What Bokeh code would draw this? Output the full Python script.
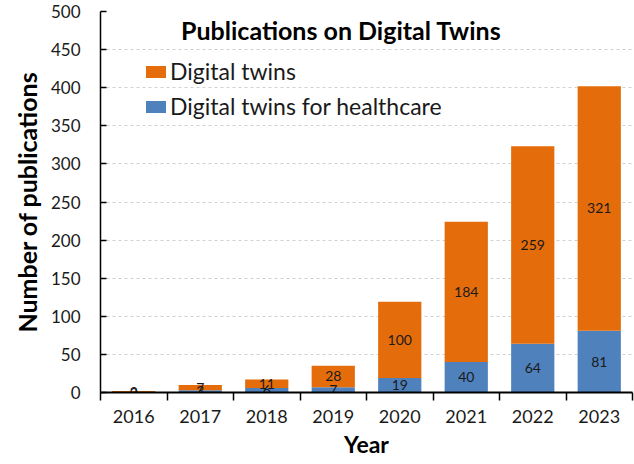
from bokeh.plotting import figure
from bokeh.models import (ColumnDataSource, FixedTicker, Range1d, Label, Legend, LegendItem)
from bokeh.core.properties import value
from bokeh.embed import file_html
from bokeh.resources import INLINE

years = ["2016", "2017", "2018", "2019", "2020", "2021", "2022", "2023"]
healthcare = [0, 3, 6, 7, 19, 40, 64, 81]
twins = [2, 7, 11, 28, 100, 184, 259, 321]
y_ticks = [0, 50, 100, 150, 200, 250, 300, 350, 400, 450, 500]

FONT = "Lato"
ORANGE = "#E46C0A"
BLUE = "#4F81BD"

idx = list(range(len(years)))
src = ColumnDataSource(dict(
    x=idx, healthcare=healthcare, twins=twins,
    hc_mid=[h / 2 for h in healthcare],
    tw_mid=[h + t / 2 for h, t in zip(healthcare, twins)],
    hc_txt=[str(h) for h in healthcare],
    tw_txt=[str(t) for t in twins],
))

p = figure(width=634, height=464, output_backend="svg", toolbar_location=None,
           x_range=Range1d(-0.5, len(years) - 0.5), y_range=Range1d(0, 500),
           min_border_left=100, min_border_right=2, min_border_top=11, min_border_bottom=72)
p.outline_line_color = None
p.background_fill_color = "white"
p.border_fill_color = "white"

r_hc, r_tw = p.vbar_stack(["healthcare", "twins"], x="x", width=0.65, source=src,
                          color=[BLUE, ORANGE], line_color=None)

p.text(x="x", y="hc_mid", text="hc_txt", source=src, text_font=value(FONT),
       text_font_size="14px", text_align="center", text_baseline="middle", text_color="#1a1a1a")
p.text(x="x", y="tw_mid", text="tw_txt", source=src, text_font=value(FONT),
       text_font_size="14px", text_align="center", text_baseline="middle", text_color="#1a1a1a")

xa = p.xaxis[0]
xa.ticker = FixedTicker(ticks=idx, minor_ticks=[i - 0.5 for i in range(len(years) + 1)])
xa.major_label_overrides = {i: y for i, y in zip(idx, years)}
xa.major_tick_out = 0
xa.major_tick_in = 0
xa.minor_tick_out = 8
xa.minor_tick_in = 0
xa.minor_tick_line_color = "black"
xa.minor_tick_line_width = 1.5
xa.axis_line_color = "black"
xa.axis_line_width = 2
xa.major_label_text_font = FONT
xa.major_label_text_font_size = "18px"
xa.major_label_text_color = "#1a1a1a"
xa.major_label_standoff = 9
xa.axis_label = "Year"
xa.axis_label_text_font = FONT
xa.axis_label_text_font_style = "bold"
xa.axis_label_text_font_size = "23px"
xa.axis_label_text_color = "black"
xa.axis_label_standoff = 4

ya = p.yaxis[0]
ya.ticker = FixedTicker(ticks=y_ticks)
ya.major_tick_out = 0
ya.major_tick_in = 6
ya.major_tick_line_color = "black"
ya.major_tick_line_width = 1.5
ya.minor_tick_line_color = None
ya.axis_line_color = "black"
ya.axis_line_width = 1.5
ya.major_label_text_font = FONT
ya.major_label_text_font_size = "17px"
ya.major_label_text_color = "#1a1a1a"
ya.major_label_standoff = 20
ya.axis_label = "Number of publications"
ya.axis_label_text_font = FONT
ya.axis_label_text_font_style = "bold"
ya.axis_label_text_font_size = "25px"
ya.axis_label_text_color = "black"
ya.axis_label_standoff = 6

p.xgrid.grid_line_color = None
p.ygrid.ticker = FixedTicker(ticks=y_ticks[1:])
p.ygrid.grid_line_color = "#d0d0d0"
p.ygrid.grid_line_dash = "3 3"
p.ygrid.grid_line_width = 1

title = Label(x=3.12, y=476, text="Publications on Digital Twins", text_font=FONT,
              text_font_style="bold", text_font_size="25px", text_align="center",
              text_baseline="alphabetic", text_color="black")
p.add_layout(title)

legend = Legend(items=[LegendItem(label="Digital twins", renderers=[r_tw]),
                       LegendItem(label="Digital twins for healthcare", renderers=[r_hc])],
                location=(43, 272), padding=0, margin=0, spacing=7,
                glyph_width=25, glyph_height=15, label_standoff=2,
                label_text_font=FONT, label_text_font_size="23px", label_text_color="#1a1a1a",
                border_line_color=None, background_fill_alpha=0)
p.add_layout(legend)

open("out.html", "w").write(file_html(p, INLINE))
